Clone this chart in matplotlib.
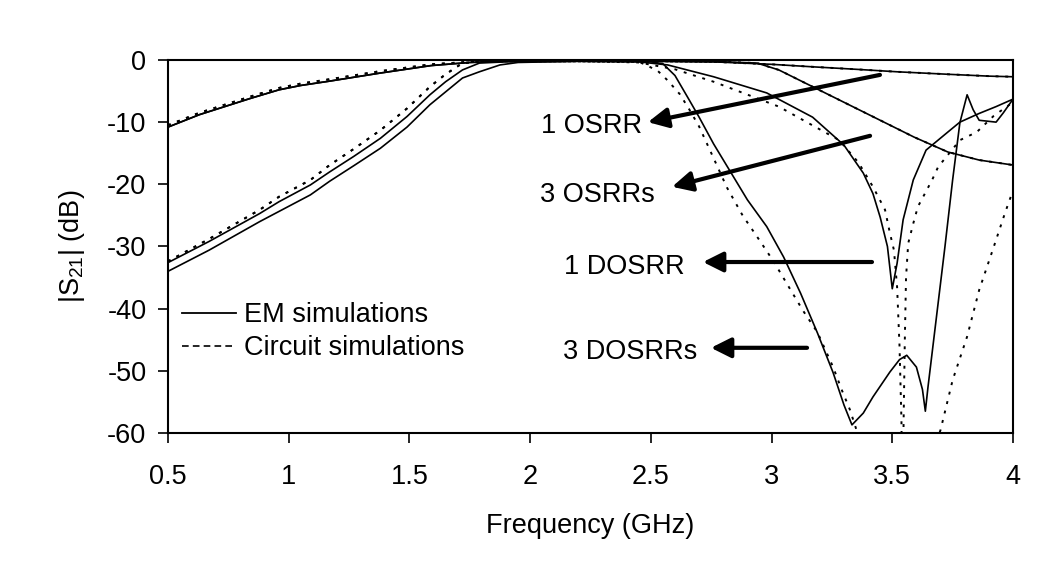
import matplotlib
matplotlib.use("Agg")
import matplotlib.pyplot as plt
from matplotlib.lines import Line2D

plt.rcParams['font.family'] = ['Liberation Sans', 'DejaVu Sans']
plt.rcParams['axes.unicode_minus'] = False

# 1 OSRR
f_1osrr = [0.5, 0.63, 0.84, 0.96, 1.05, 1.17, 1.38, 1.59, 1.75, 1.9, 2.2, 2.5, 2.76, 3.0, 3.17, 3.35, 3.52, 3.73, 3.9, 4.0]
em_1osrr = [-10.8, -8.8, -6.2, -4.8, -4.1, -3.4, -2.1, -0.9, -0.4, -0.2, -0.2, -0.2, -0.3, -0.7, -1.1, -1.5, -1.9, -2.3, -2.6, -2.7]
ci_1osrr = [-10.5, -8.5, -5.9, -4.5, -3.8, -3.1, -1.8, -0.7, -0.3, -0.2, -0.2, -0.2, -0.3, -0.7, -1.1, -1.5, -1.9, -2.3, -2.6, -2.7]

# 3 OSRRs
f_3osrr = [0.5, 0.67, 0.88, 0.96, 1.09, 1.17, 1.27, 1.38, 1.49, 1.585, 1.65, 1.72, 1.79, 1.9, 2.2, 2.5, 2.8,
           2.94, 3.03, 3.17, 3.31, 3.45, 3.59, 3.73, 3.86, 4.0]
em_3osrr = [-32.6, -29.2, -24.7, -22.8, -20.1, -18.0, -15.5, -12.6, -9.1, -5.6, -3.5, -1.6, -0.5, -0.3, -0.2, -0.2, -0.3,
            -0.5, -1.6, -4.3, -7.0, -9.7, -12.4, -14.8, -16.1, -16.9]
ci_3osrr = [-32.4, -28.8, -24.1, -22.0, -19.3, -16.9, -14.3, -11.3, -7.8, -4.3, -2.3, -0.5, -0.3, -0.2, -0.2, -0.2, -0.3,
            -0.5, -1.6, -4.3, -7.0, -9.7, -12.4, -14.8, -16.1, -16.9]

# 1 DOSRR
f_1dosrr_em = [0.5, 0.63, 0.84, 0.96, 1.05, 1.17, 1.38, 1.59, 1.75, 1.9, 2.2, 2.45, 2.57, 2.76, 2.98, 3.17, 3.30,
               3.38, 3.42, 3.45, 3.48, 3.50, 3.52, 3.545, 3.587, 3.64, 3.73, 3.78, 3.86, 3.93, 4.0]
em_1dosrr = [-10.8, -8.8, -6.2, -4.8, -4.1, -3.4, -2.1, -0.9, -0.4, -0.2, -0.2, -0.3, -0.8, -2.7, -5.3, -9.2, -13.7,
             -18.2, -21.5, -25.3, -30.0, -36.8, -32.7, -25.7, -19.3, -14.5, -11.6, -10.0, -8.6, -7.5, -6.3]
f_1dosrr_ci = [0.5, 0.63, 0.84, 0.96, 1.05, 1.17, 1.38, 1.59, 1.75, 1.9, 2.2, 2.45, 2.6, 2.76, 3.03, 3.28, 3.36,
               3.42, 3.47, 3.49, 3.507, 3.52, 3.53, 3.538, 3.542, 3.547, 3.552, 3.557, 3.566, 3.587, 3.606, 3.635,
               3.665, 3.69, 3.78, 3.85, 3.92, 4.0]
ci_1dosrr = [-10.5, -8.5, -5.9, -4.5, -3.8, -3.1, -1.8, -0.7, -0.3, -0.2, -0.2, -0.4, -1.5, -3.5, -7.5, -12.9, -16.5,
             -20.4, -24.1, -27.8, -30.6, -36.5, -46.0, -58.0, -75.0, -58.0, -45.0, -35.0, -29.5, -26.3, -23.6, -21.5,
             -19.3, -17.2, -12.9, -11.6, -9.0, -6.8]

# 3 DOSRRs
f_3dosrr_em = [0.5, 0.67, 0.88, 1.09, 1.17, 1.27, 1.38, 1.49, 1.585, 1.72, 1.79, 1.875, 1.95, 2.2, 2.5, 2.55, 2.6,
               2.66, 2.70, 2.76, 2.83, 2.90, 2.98, 3.05, 3.12, 3.19, 3.255, 3.30, 3.333, 3.38, 3.42, 3.49, 3.53,
               3.56, 3.60, 3.625, 3.637, 3.648, 3.685, 3.718, 3.75, 3.78, 3.81, 3.835, 3.86, 3.93, 3.96, 4.0]
em_3dosrr = [-34.0, -30.6, -26.0, -21.7, -19.5, -17.0, -14.2, -10.8, -7.2, -2.9, -1.9, -0.8, -0.4, -0.2, -0.3, -0.6, -2.5,
             -6.5, -9.2, -13.5, -18.0, -22.5, -26.8, -31.7, -37.5, -43.9, -50.3, -55.5, -58.7, -56.8, -54.2, -50.2, -48.2,
             -47.5, -49.4, -53.0, -56.5, -52.6, -40.7, -30.1, -19.3, -10.1, -5.6, -8.0, -9.7, -10.0, -8.5, -6.3]
f_3dosrr_ci = [0.5, 0.67, 0.88, 0.96, 1.09, 1.17, 1.27, 1.38, 1.49, 1.585, 1.65, 1.72, 1.79, 1.9, 2.2, 2.45, 2.48,
               2.53, 2.57, 2.62, 2.66, 2.70, 2.76, 2.815, 2.88, 2.95, 3.01, 3.076, 3.13, 3.19, 3.255, 3.29, 3.325,
               3.36, 3.40, 3.5, 3.6, 3.66, 3.70, 3.75, 3.81, 3.86, 3.92, 3.967, 4.0]
ci_3dosrr = [-32.4, -28.8, -24.1, -22.0, -19.3, -16.9, -14.3, -11.3, -7.8, -4.3, -2.3, -0.5, -0.3, -0.2, -0.2, -0.3, -0.8,
             -1.8, -3.3, -5.5, -8.0, -10.7, -15.8, -20.5, -25.0, -29.0, -32.5, -36.8, -40.3, -43.8, -49.4, -53.0, -56.3,
             -60.5, -66.0, -72.0, -70.0, -64.0, -59.5, -51.5, -44.5, -37.0, -30.1, -24.6, -21.0]

labels = ['1 OSRR', '3 OSRRs', '1 DOSRR', '3 DOSRRs']
label_x = [2.463, 2.517, 2.641, 2.691]
label_y = [-10.6, -21.7, -33.3, -47.0]
arrow_tail = [(3.449, -2.4), (3.408, -12.2), (3.416, -32.5), (3.147, -46.3)]
arrow_head = [(2.488, -10.0), (2.588, -20.4), (2.716, -32.5), (2.749, -46.3)]

xticks = [0.5, 1, 1.5, 2, 2.5, 3, 3.5, 4]
xtick_labels = ['0.5', '1', '1.5', '2', '2.5', '3', '3.5', '4']
yticks = [0, -10, -20, -30, -40, -50, -60]

fs = 19.5
dot = (0, (1.5, 3.5))

fig = plt.figure(figsize=(10.53, 5.75), dpi=100)
ax = fig.add_axes([0.1595, 0.247, 0.8025, 0.6487])

ax.plot(f_1osrr, em_1osrr, color='black', lw=1.2)
ax.plot(f_1osrr, ci_1osrr, color='black', lw=1.4, ls=dot)
ax.plot(f_3osrr, em_3osrr, color='black', lw=1.2)
ax.plot(f_3osrr, ci_3osrr, color='black', lw=1.4, ls=dot)
ax.plot(f_1dosrr_em, em_1dosrr, color='black', lw=1.2)
ax.plot(f_1dosrr_ci, ci_1dosrr, color='black', lw=1.4, ls=dot)
ax.plot(f_3dosrr_em, em_3dosrr, color='black', lw=1.2)
ax.plot(f_3dosrr_ci, ci_3dosrr, color='black', lw=1.4, ls=dot)

for i in range(len(labels)):
    ax.text(label_x[i], label_y[i], labels[i], ha='right', va='center', fontsize=fs)
    ax.annotate('', xy=arrow_head[i], xytext=arrow_tail[i],
                arrowprops=dict(arrowstyle='-|>,head_length=0.6,head_width=0.3', lw=3, color='black',
                                mutation_scale=20, shrinkA=0, shrinkB=0))

ax.set_xlim(0.5, 4)
ax.set_ylim(-60, 0)
ax.set_xticks(xticks)
ax.set_xticklabels(xtick_labels)
ax.set_yticks(yticks)
ax.tick_params(axis='both', labelsize=fs, length=7.5, width=1.2, direction='out')
ax.tick_params(axis='x', pad=15)
ax.tick_params(axis='y', pad=8)
for s in ax.spines.values():
    s.set_linewidth(1.5)

ax.set_xlabel('Frequency (GHz)', fontsize=fs)
ax.set_ylabel(r'|S$_{\mathregular{21}}$| (dB)', fontsize=fs)
ax.xaxis.set_label_coords(0.5, -0.215)
ax.yaxis.set_label_coords(-0.096, 0.5)

handles = [Line2D([], [], color='black', lw=1.3), Line2D([], [], color='black', lw=1.2, ls=(0, (4, 2.5)))]
ax.legend(handles, ['EM simulations', 'Circuit simulations'], loc='upper left', bbox_to_anchor=(0.0166, 0.35),
          frameon=False, fontsize=fs, borderpad=0, borderaxespad=0, handlelength=2.0, handletextpad=0.3,
          labelspacing=0.25)

fig.savefig('out.png', dpi=100)
